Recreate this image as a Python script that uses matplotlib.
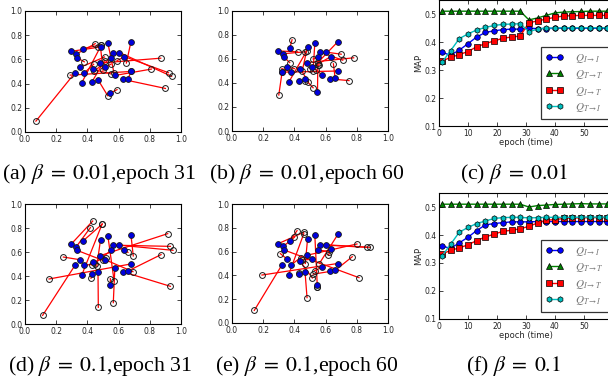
import matplotlib
matplotlib.use('Agg')
import matplotlib.pyplot as plt

plt.rcParams['mathtext.fontset'] = 'stix'

# fixed (blue) points, same in every scatter panel
blue_x = [0.297, 0.329, 0.335, 0.370, 0.355, 0.321, 0.363, 0.381, 0.429, 0.438, 0.468, 0.483, 0.484,
          0.531, 0.565, 0.605, 0.634, 0.548, 0.576, 0.631, 0.661, 0.677, 0.679, 0.553, 0.515]
blue_y = [0.667, 0.644, 0.613, 0.690, 0.535, 0.490, 0.405, 0.490, 0.414, 0.517, 0.432, 0.570, 0.702,
          0.736, 0.657, 0.657, 0.620, 0.322, 0.467, 0.434, 0.442, 0.500, 0.745, 0.614, 0.535]

# moved (open) points, one per blue point
a_x = [0.47, 0.45, 0.38, 0.49, 0.51, 0.07, 0.49, 0.44, 0.51, 0.55, 0.53, 0.87, 0.50,
       0.57, 0.92, 0.94, 0.59, 0.59, 0.81, 0.90, 0.68, 0.29, 0.65, 0.44, 0.55]
a_y = [0.70, 0.73, 0.58, 0.72, 0.62, 0.09, 0.72, 0.56, 0.59, 0.48, 0.30, 0.61, 0.51,
       0.49, 0.49, 0.46, 0.59, 0.35, 0.52, 0.36, 0.50, 0.47, 0.57, 0.50, 0.56]

b_x = [0.42, 0.47, 0.37, 0.385, 0.40, 0.30, 0.48, 0.32, 0.47, 0.49, 0.52, 0.78, 0.45,
       0.52, 0.71, 0.70, 0.50, 0.55, 0.54, 0.75, 0.65, 0.32, 0.55, 0.52, 0.56]
b_y = [0.66, 0.66, 0.57, 0.76, 0.52, 0.30, 0.67, 0.52, 0.42, 0.41, 0.36, 0.61, 0.50,
       0.50, 0.59, 0.64, 0.52, 0.55, 0.51, 0.42, 0.56, 0.49, 0.57, 0.60, 0.55]

d_x = [0.434, 0.419, 0.50, 0.494, 0.246, 0.113, 0.495, 0.45, 0.423, 0.52, 0.470, 0.915, 0.46,
       0.571, 0.932, 0.949, 0.660, 0.547, 0.566, 0.932, 0.872, 0.154, 0.694, 0.43, 0.692]
d_y = [0.858, 0.803, 0.53, 0.831, 0.558, 0.072, 0.835, 0.50, 0.381, 0.55, 0.139, 0.753, 0.48,
       0.361, 0.647, 0.614, 0.597, 0.378, 0.178, 0.314, 0.578, 0.375, 0.567, 0.49, 0.436]

e_x = [0.459, 0.40, 0.814, 0.417, 0.31, 0.143, 0.46, 0.44, 0.43, 0.515, 0.481, 0.801, 0.47,
       0.547, 0.863, 0.887, 0.618, 0.547, 0.53, 0.52, 0.771, 0.192, 0.56, 0.62, 0.45]
e_y = [0.762, 0.72, 0.381, 0.776, 0.583, 0.106, 0.75, 0.55, 0.42, 0.378, 0.213, 0.664, 0.50,
       0.305, 0.636, 0.636, 0.569, 0.30, 0.44, 0.41, 0.557, 0.403, 0.50, 0.60, 0.53]

epochs = [1, 4, 7, 10, 13, 16, 19, 22, 25, 28, 31, 34, 37, 40, 43, 46, 49, 52, 55, 58]

c_ii = [0.363, 0.353, 0.371, 0.394, 0.418, 0.434, 0.440, 0.444, 0.446, 0.446,
        0.449, 0.448, 0.448, 0.449, 0.449, 0.449, 0.449, 0.449, 0.449, 0.449]
c_tt = [0.510, 0.510, 0.510, 0.510, 0.510, 0.510, 0.510, 0.510, 0.510, 0.510,
        0.479, 0.486, 0.495, 0.504, 0.507, 0.508, 0.509, 0.510, 0.510, 0.510]
c_it = [0.332, 0.345, 0.355, 0.366, 0.383, 0.394, 0.404, 0.413, 0.418, 0.421,
        0.469, 0.475, 0.482, 0.488, 0.493, 0.494, 0.495, 0.495, 0.495, 0.495]
c_ti = [0.327, 0.369, 0.412, 0.429, 0.443, 0.452, 0.459, 0.463, 0.464, 0.465,
        0.437, 0.446, 0.450, 0.450, 0.451, 0.451, 0.451, 0.451, 0.451, 0.451]

f_ii = [0.361, 0.352, 0.372, 0.392, 0.416, 0.436, 0.441, 0.444, 0.447, 0.447,
        0.447, 0.448, 0.448, 0.448, 0.448, 0.448, 0.448, 0.448, 0.448, 0.448]
f_tt = [0.510, 0.510, 0.510, 0.510, 0.510, 0.510, 0.510, 0.510, 0.510, 0.510,
        0.500, 0.505, 0.507, 0.509, 0.510, 0.511, 0.512, 0.511, 0.511, 0.511]
f_it = [0.332, 0.345, 0.354, 0.365, 0.380, 0.393, 0.403, 0.413, 0.417, 0.422,
        0.431, 0.443, 0.453, 0.455, 0.459, 0.461, 0.461, 0.462, 0.462, 0.462]
f_ti = [0.324, 0.367, 0.410, 0.427, 0.441, 0.450, 0.459, 0.462, 0.463, 0.463,
        0.461, 0.462, 0.463, 0.463, 0.463, 0.463, 0.464, 0.464, 0.464, 0.464]

labels = [r'$Q_{I\rightarrow I}$', r'$Q_{T\rightarrow T}$', r'$Q_{I\rightarrow T}$', r'$Q_{T\rightarrow I}$']
captions = [r'(a) $\beta\;=\;0.01$,epoch 31', r'(b) $\beta\;=\;0.01$,epoch 60', r'(c) $\beta\;=\;0.01$',
            r'(d) $\beta\;=\;0.1$,epoch 31', r'(e) $\beta\;=\;0.1$,epoch 60', r'(f) $\beta\;=\;0.1$']

W, H = 608, 383
fig = plt.figure(figsize=(W / 100, H / 100), dpi=100)


def box(l, t, r, b):
    return [l / W, 1 - b / H, (r - l) / W, (b - t) / H]


def style(ax):
    ax.tick_params(direction='in', top=True, right=True, length=3, width=0.6,
                   labelsize=5.5, colors='0.15', pad=2)
    for s in ax.spines.values():
        s.set_linewidth(0.8)


def scatter_panel(rect, ox, oy):
    ax = fig.add_axes(box(*rect))
    for i in range(len(blue_x)):
        ax.plot([blue_x[i], ox[i]], [blue_y[i], oy[i]], color='red', lw=0.9, zorder=2)
    ax.plot(ox, oy, 'o', ms=4.2, mfc='none', mec='0.1', mew=0.7, zorder=3)
    ax.plot(blue_x, blue_y, 'o', ms=4.2, mfc='#0000dd', mec='0.1', mew=0.6, zorder=4)
    ax.set_xlim(0, 1)
    ax.set_ylim(0, 1)
    ax.set_xticks([0, 0.2, 0.4, 0.6, 0.8, 1.0])
    ax.set_yticks([0, 0.2, 0.4, 0.6, 0.8, 1.0])
    style(ax)
    return ax


def map_panel(rect, ii, tt, it, ti):
    ax = fig.add_axes(box(*rect))
    kw = dict(ms=4, mec='black', mew=0.5, lw=1)
    ax.plot(epochs, ii, '-o', color='#0000ff', label=labels[0], **kw)
    ax.plot(epochs, tt, '-^', color='#008000', label=labels[1], **kw)
    ax.plot(epochs, it, '-s', color='#ff0000', label=labels[2], **kw)
    ax.plot(epochs, ti, '-h', color='#00bfbf', label=labels[3], **kw)
    ax.set_xlim(0, 60)
    ax.set_ylim(0.1, 0.55)
    ax.set_xticks([0, 10, 20, 30, 40, 50, 60])
    ax.set_yticks([0.1, 0.2, 0.3, 0.4, 0.5])
    ax.set_xlabel('epoch (time)', fontsize=6, labelpad=0, color='0.15')
    ax.set_ylabel('MAP', fontsize=6, labelpad=1, color='0.15')
    style(ax)
    leg = ax.legend(loc='lower left', bbox_to_anchor=(0.586, 0.056), fontsize=8,
                    numpoints=2, handlelength=1.6, handletextpad=1.0, labelspacing=0.3,
                    borderpad=0.45, borderaxespad=0, fancybox=False, labelcolor='0.45')
    leg.get_frame().set_edgecolor('black')
    leg.get_frame().set_linewidth(0.9)
    return ax


scatter_panel((25, 11, 181, 132), a_x, a_y)
scatter_panel((232, 11, 388, 131), b_x, b_y)
map_panel((439, 0, 613, 126), c_ii, c_tt, c_it, c_ti)
scatter_panel((25, 204, 181, 324), d_x, d_y)
scatter_panel((232, 204, 388, 323), e_x, e_y)
map_panel((439, 193, 613, 319), f_ii, f_tt, f_it, f_ti)

cap_pos = [(2, 174), (209, 174), (460, 174), (8, 366), (215, 366), (466, 366)]
for (cx, cy), txt in zip(cap_pos, captions):
    fig.text(cx / W, 1 - cy / H, txt, fontsize=15.7, family='Liberation Serif',
             ha='left', va='center')

fig.savefig('out.png', dpi=100)
